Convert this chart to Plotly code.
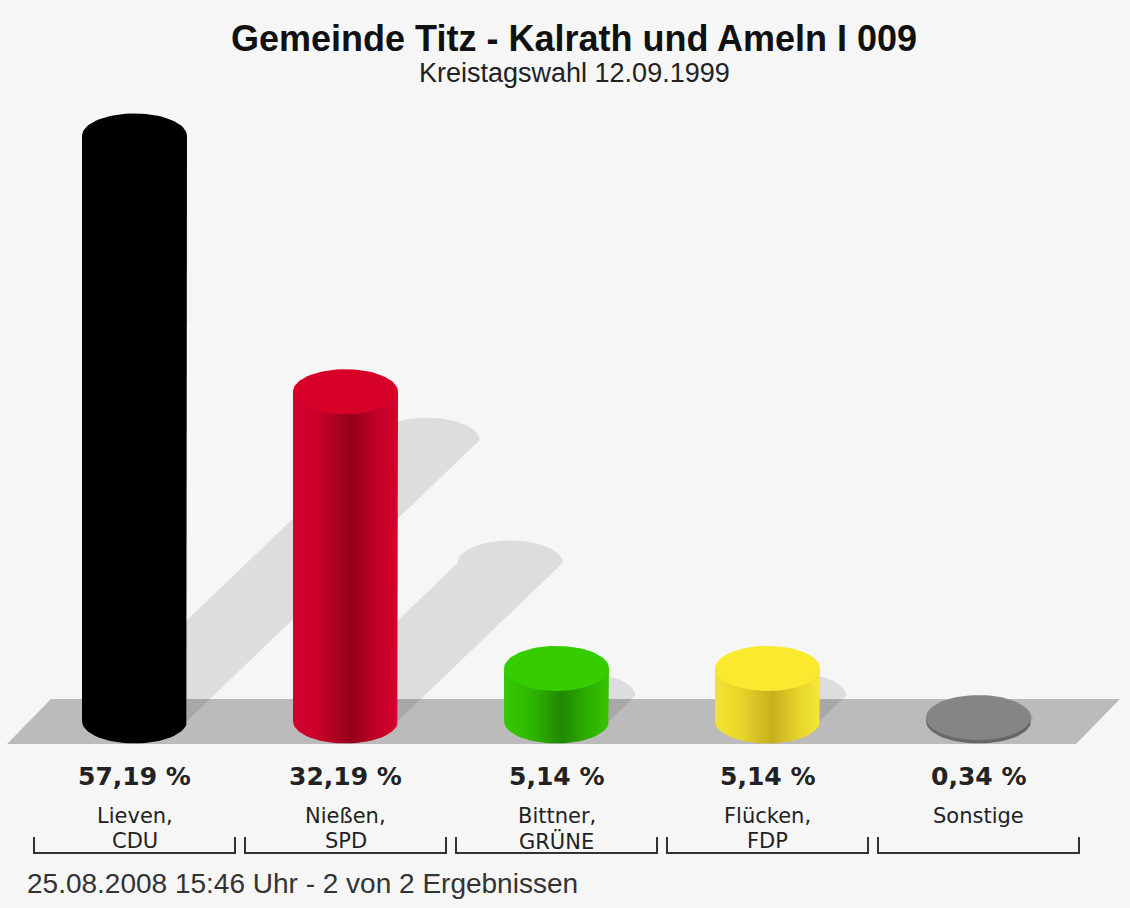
import numpy as np
import plotly.graph_objects as go

# ── Data ──────────────────────────────────────────────────────────────
names = ["Lieven,", "Nießen,", "Bittner,", "Flücken,", "Sonstige"]
parties = ["CDU", "SPD", "GRÜNE", "FDP", ""]
shares = [57.19, 32.19, 5.14, 5.14, 0.34]

title = "Gemeinde Titz - Kalrath und Ameln I 009"
subtitle = "Kreistagswahl 12.09.1999"
footer = "25.08.2008 15:46 Uhr - 2 von 2 Ergebnissen"

# cylinder shading: body colorscale (left -> right) and cap colour
body_scales = [
    [[0, "#000000"], [1, "#000000"]],
    [[0, "#d4002c"], [0.25, "#c8002a"], [0.55, "#95001a"], [0.8, "#c20026"], [1, "#d6002d"]],
    [[0, "#36c800"], [0.25, "#2fb800"], [0.55, "#1f8800"], [0.8, "#2cb000"], [1, "#36c400"]],
    [[0, "#f4e432"], [0.25, "#e8d42a"], [0.55, "#c5b01c"], [0.8, "#e6d52c"], [1, "#f6e636"]],
    [[0, "#6a6a6a"], [1, "#646464"]],
]
cap_colors = ["#000000", "#d70029", "#35cc00", "#fbe92f", "#858585"]

BG = "#f6f6f6"
W, H = 1130, 908

# ── Pixel geometry -> axis ranges ─────────────────────────────────────
X0_PX, DX_PX = 134.5, 211.0        # centre of first bar, bar spacing
Y0_PX, PX_PER_PCT = 721.0, 10.23   # base line, px per percent
x_range = [-X0_PX / DX_PX, (W - X0_PX) / DX_PX]
y_range = [-(H - Y0_PX) / PX_PER_PCT, Y0_PX / PX_PER_PCT]

HW = 52.5 / DX_PX          # bar half width in x units
RY = 22.5 / PX_PER_PCT     # ellipse half height in y units


def ypx(p):
    return 1 - p / H


def arc(cx, cy, t0, t1, n=40):
    t = np.linspace(t0, t1, n)
    return cx + HW * np.cos(t), cy + RY * np.sin(t)


fig = go.Figure()

# ── Shadows (sheared copies of the bars, half their height) ───────────
for i, v in enumerate(shares):
    sx = 0.5 * v * PX_PER_PCT / DX_PX
    sy = 0.48 * v
    ax, ay = arc(i + sx, sy, np.pi, 0)
    xs = [i - HW] + list(ax) + [i + HW, i - HW]
    ys = [0] + list(ay) + [0, 0]
    fig.add_trace(go.Scatter(
        x=xs, y=ys, fill="toself", mode="lines", line={"width": 0},
        fillcolor="rgba(0,0,0,0.10)", hoverinfo="skip", showlegend=False,
    ))

# ── Cylinder bodies ───────────────────────────────────────────────────
for i, v in enumerate(shares):
    bx, by = arc(i, 0, 0, -np.pi)
    xs = [i - HW, i - HW, i + HW, i + HW] + list(bx)
    ys = [0, v, v, 0] + list(by)
    fig.add_trace(go.Scatter(
        x=xs, y=ys, fill="toself", mode="lines", line={"width": 0},
        fillgradient={"type": "horizontal", "colorscale": body_scales[i]},
        hoverinfo="skip", showlegend=False,
    ))

# ── Cylinder caps ─────────────────────────────────────────────────────
for i, v in enumerate(shares):
    cx, cy = arc(i, v, 0, 2 * np.pi, 80)
    fig.add_trace(go.Scatter(
        x=cx, y=cy, fill="toself", mode="lines", line={"width": 0},
        fillcolor=cap_colors[i], hoverinfo="skip", showlegend=False,
    ))

# ── Labels ────────────────────────────────────────────────────────────
annotations = []
for i, v in enumerate(shares):
    pct = f"{v:.2f}".replace(".", ",") + " %"
    annotations.append(dict(
        x=i, y=ypx(776), xref="x", yref="paper", text=f"<b>{pct}</b>", showarrow=False,
        font={"family": "DejaVu Sans", "size": 25, "color": "#222222"},
        xanchor="center", yanchor="middle",
    ))
    annotations.append(dict(
        x=i, y=ypx(816), xref="x", yref="paper", text=names[i], showarrow=False,
        font={"family": "DejaVu Sans", "size": 21, "color": "#222222"},
        xanchor="center", yanchor="middle",
    ))
    if parties[i]:
        annotations.append(dict(
            x=i, y=ypx(841), xref="x", yref="paper", text=parties[i], showarrow=False,
            font={"family": "DejaVu Sans", "size": 21, "color": "#222222"},
            xanchor="center", yanchor="middle",
        ))

annotations += [
    dict(x=574 / W, y=ypx(39), xref="paper", yref="paper", text=f"<b>{title}</b>",
         showarrow=False, xanchor="center", yanchor="middle",
         font={"family": "Liberation Sans, Arial", "size": 36, "color": "#111111"}),
    dict(x=574 / W, y=ypx(73), xref="paper", yref="paper", text=subtitle,
         showarrow=False, xanchor="center", yanchor="middle",
         font={"family": "Liberation Sans, Arial", "size": 27, "color": "#222222"}),
    dict(x=25 / W, y=ypx(883), xref="paper", yref="paper", text=footer,
         showarrow=False, xanchor="left", yanchor="middle",
         font={"family": "Liberation Sans, Arial", "size": 28, "color": "#333333"}),
]

# ── Floor + brackets ──────────────────────────────────────────────────
shapes = [dict(
    type="path", xref="paper", yref="paper", layer="below", line={"width": 0},
    fillcolor="#bbbbbb",
    path=(f"M {7/W},{ypx(744)} L {51/W},{ypx(699)} L {1120/W},{ypx(699)} "
          f"L {1076/W},{ypx(744)} Z"),
)]
BHW = 100.5 / DX_PX
for i in range(len(shares)):
    shapes.append(dict(
        type="path", xref="x", yref="paper", layer="above",
        line={"color": "#333333", "width": 2},
        path=(f"M {i - BHW},{ypx(837)} L {i - BHW},{ypx(853)} "
              f"L {i + BHW},{ypx(853)} L {i + BHW},{ypx(837)}"),
    ))

fig.update_layout(
    width=W, height=H,
    margin={"l": 0, "r": 0, "t": 0, "b": 0},
    paper_bgcolor=BG, plot_bgcolor=BG,
    xaxis={"range": x_range, "visible": False, "fixedrange": True},
    yaxis={"range": y_range, "visible": False, "fixedrange": True},
    annotations=annotations,
    shapes=shapes,
    showlegend=False,
)

fig.write_html(
    "out.html",
    config={"displayModeBar": False},
    post_script="document.body.style.margin = '0';",
)
